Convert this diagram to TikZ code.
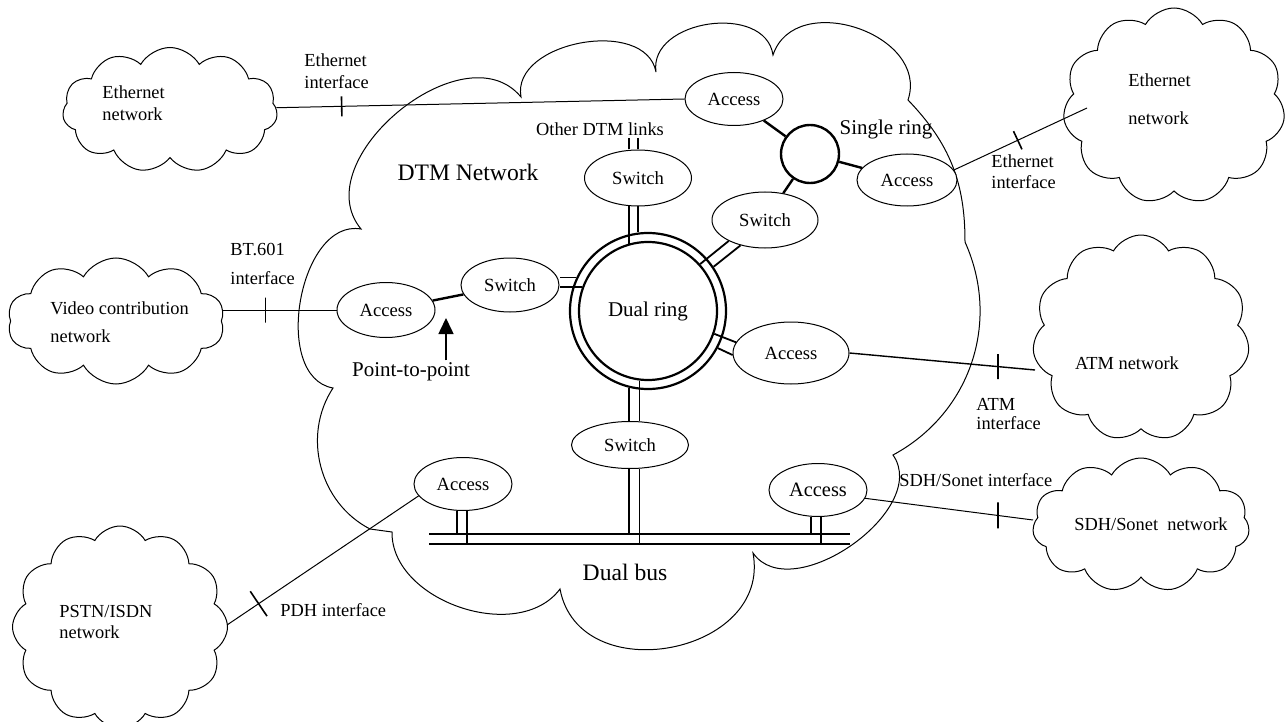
\documentclass[tikz,border=0pt]{standalone}
\usepackage{fontspec}
\setmainfont{Liberation Serif}
\usepackage{tikz}
\usetikzlibrary{shapes.symbols}
\usetikzlibrary{shapes.geometric}
\usetikzlibrary{arrows.meta}

\begin{document}
\begin{tikzpicture}[x=0.5pt, y=-0.5pt,
    smalltxt/.style={font=\fontsize{9.2}{11}\selectfont, inner sep=1pt},
    midtxt/.style={font=\fontsize{10.5}{12}\selectfont, inner sep=1pt},
    bigtxt/.style={font=\fontsize{11.8}{14}\selectfont, inner sep=1pt},
    netcloud/.style={cloud, draw, line width=0.5pt, cloud puffs=11, cloud puff arc=120, cloud ignores aspect, inner sep=0pt},
    dtmnode/.style={ellipse, draw, fill=white, line width=0.5pt, inner sep=0pt, font=\fontsize{9.3}{11}\selectfont},
    ringnode/.style={circle, draw, line width=1.1pt, inner sep=0pt},
    dlink/.style={line width=0.9pt},
    plink/.style={line width=1.2pt},
    iflink/.style={line width=0.5pt},
    busline/.style={line width=1pt},
    ifmark/.style={draw, line width=0.8pt, rectangle, minimum width=0pt, minimum height=10pt, inner sep=0pt},
]

    \useasboundingbox (0,0) rectangle (1286,722);

    % DTM network cloud
    \draw[line width=0.5pt] (361,229) to[bend left=90, looseness=1.1] (521,97)
        to[bend left=90, looseness=1.05] (656,72)
        to[bend left=90, looseness=1.15] (773,55)
        to[bend left=90, looseness=1.25] (908,100)
        to[bend left=22] (965,242)
        to[bend left=43] (893,455)
        to[bend left=90] (753,553)
        to[bend left=90, looseness=1.35] (560,589)
        to[bend left=72] (392,532)
        -- (370,529)
        to[bend left=48] (333,388)
        to[bend left=90] (361,229) -- cycle;
    \node[bigtxt] (dtm) at (468,172) {DTM Network};

    % Outer networks
    \node[netcloud, minimum width=107.5pt, minimum height=62.5pt] (ethL) at (170,110) {};
    \node[smalltxt, align=left, anchor=west] (ethLt) at (100,103) {Ethernet\\network};
    \node[netcloud, minimum width=111pt, minimum height=98pt] (ethR) at (1174,106) {};
    \node[smalltxt, align=left, anchor=west, font=\fontsize{9.2}{19}\selectfont] (ethRt) at (1126,99) {Ethernet\\network};
    \node[netcloud, minimum width=108.5pt, minimum height=63pt, cloud puffs=10] (video) at (116,321) {};
    \node[smalltxt, align=left, anchor=west, font=\fontsize{9.2}{14}\selectfont] (videot) at (48,322) {Video contribution\\network};
    \node[netcloud, minimum width=107.5pt, minimum height=101pt, cloud puffs=12] (pstn) at (120,627) {};
    \node[smalltxt, align=left, anchor=west, font=\fontsize{9.2}{10.5}\selectfont] (pstnt) at (57,622) {PSTN/ISDN\\network};
    \node[netcloud, minimum width=108.5pt, minimum height=103pt] (atm) at (1141,338) {};
    \node[smalltxt] (atmt) at (1127,363) {ATM network};
    \node[netcloud, minimum width=108.5pt, minimum height=67pt] (sdh) at (1141,525) {};
    \node[smalltxt] (sdht) at (1151,524) {SDH/Sonet~ network};

    % Nodes inside
    \node[dtmnode, minimum width=49pt, minimum height=26.5pt] (a1) at (734,99) {Access};
    \node[ringnode, minimum size=29pt, line width=1.2pt] (sring) at (810,154) {};
    \node[midtxt] (sringt) at (886,129) {Single ring};
    \node[dtmnode, minimum width=50pt, minimum height=26pt] (a2) at (907,180) {Access};
    \node[dtmnode, minimum width=53.5pt, minimum height=28pt] (s1) at (638,178) {Switch};
    \node[smalltxt] (othl) at (600,129) {Other DTM links};
    \node[dtmnode, minimum width=53pt, minimum height=28pt] (s2) at (765,220) {Switch};
    \node[dtmnode, minimum width=49pt, minimum height=27pt] (s3) at (510,285) {Switch};
    \node[dtmnode, minimum width=49pt, minimum height=27.5pt] (a3) at (386,310) {Access};
    \node[ringnode, minimum size=78pt] (ringout) at (648,311) {};
    \node[ringnode, minimum size=69pt, midtxt] (ringin) at (648,311) {Dual ring};
    \node[dtmnode, minimum width=58pt, minimum height=31pt] (a4) at (791,353) {Access};
    \node[dtmnode, minimum width=58.5pt, minimum height=23.5pt] (s4) at (630,445) {Switch};
    \node[dtmnode, minimum width=49pt, minimum height=26.5pt] (a5) at (463,484) {Access};
    \node[dtmnode, minimum width=49pt, minimum height=26.5pt, font=\fontsize{10.2}{12}\selectfont] (a6) at (818,490) {Access};
    \node[bigtxt] (dbus) at (625,572) {Dual bus};

    % Dual bus
    \coordinate (busw) at (429,534);
    \coordinate (buse) at (850,534);
    \coordinate (busw2) at (429,544);
    \coordinate (buse2) at (850,544);
    \draw[busline] (busw) -- (buse);
    \draw[busline] (busw2) -- (buse2);

    % Dual ring links
    \draw[dlink] (ringin.106) -- (ringin.106 |- s1.south);
    \draw[dlink] (ringout.97) -- (ringout.97 |- s1.south);
    \draw[dlink] (ringin.106 |- s1.north) -- (ringin.106 |- othl.south);
    \draw[dlink] (ringout.97 |- s1.north) -- (ringout.97 |- othl.south);
    \draw[dlink] (ringin.42) -- (s2.210);
    \draw[dlink] (ringout.34) -- (s2.226);
    \draw[dlink] (ringout.155) -- (ringout.155 -| s3.east);
    \draw[dlink] (ringin.160) -- (ringin.160 -| s3.east);
    \draw[dlink] (ringin.-19) -- (a4.169);
    \draw[dlink] (ringout.-28) -- (a4.182);
    \draw[dlink] (ringout.-104) -- (ringout.-104 |- s4.north);
    \draw[dlink] (ringin.-97) -- (ringin.-97 |- s4.north);

    % Bus links
    \draw[dlink] (ringout.-104 |- s4.south) -- (ringout.-104 |- busw);
    \draw[dlink] (ringin.-97 |- s4.south) -- (ringin.-97 |- busw2);
    \draw[dlink] ([xshift=-3pt]a5.south) -- ([xshift=-3pt]a5.south |- busw);
    \draw[dlink] ([xshift=2pt]a5.south) -- ([xshift=2pt]a5.south |- busw2);
    \draw[dlink] ([xshift=-3.5pt]a6.south) -- ([xshift=-3.5pt]a6.south |- busw);
    \draw[dlink] ([xshift=1.5pt]a6.south) -- ([xshift=1.5pt]a6.south |- busw2);

    % Single ring and point-to-point
    \draw[plink] (a1) -- (sring);
    \draw[plink] (sring) -- (a2);
    \draw[plink] (sring) -- (s2);
    \draw[plink] (a3) -- (s3);
    \node[midtxt] (ptp) at (411,372) {Point-to-point};
    \coordinate (ptptip) at (446,318);
    \draw[line width=0.8pt, -{Triangle[width=7.5pt, length=8pt]}] (ptptip |- ptp.north) -- (ptptip);

    % Interfaces
    \coordinate (ethRin) at (1087,108);
    \coordinate (pstnin) at (227,625);
    \coordinate (atmin) at (1035,370);
    \coordinate (sdhin) at (1033,520);
    \draw[iflink] (ethL) -- node[ifmark, pos=0.16, sloped] (m1) {} (a1.west);
    \node[smalltxt, align=left, anchor=west] (m1t) at (302,71) {Ethernet\\interface};
    \draw[iflink] (a2.12) -- node[ifmark, pos=0.48, sloped] (m2) {} (ethRin);
    \node[smalltxt, align=left, anchor=west, font=\fontsize{9.2}{10.5}\selectfont] (m2t) at (989,172) {Ethernet\\interface};
    \draw[iflink] (a3.west) -- node[ifmark, pos=0.62, minimum height=12.5pt] (m3) {} (a3.west -| video.east);
    \node[smalltxt, align=left, anchor=west, font=\fontsize{9.2}{14.5}\selectfont] (m3t) at (228,264) {BT.601\\interface};
    \draw[iflink] (a5.195) -- node[ifmark, pos=0.835, sloped, minimum height=15pt] (m4) {} (pstnin);
    \node[smalltxt, anchor=west] (m4t) at (278,610) {PDH interface};
    \draw[iflink, line width=0.7pt] (a4.east) -- node[ifmark, pos=0.8, minimum height=12.5pt] (m5) {} (atmin);
    \node[smalltxt, align=left, anchor=west, font=\fontsize{9.2}{9.2}\selectfont] (m5t) at (974,414) {ATM\\interface};
    \draw[iflink] (a6.-10) -- node[ifmark, pos=0.79, minimum height=13pt] (m6) {} (sdhin);
    \node[smalltxt, anchor=west] (m6t) at (897,480) {SDH/Sonet interface};

\end{tikzpicture}
\end{document}
